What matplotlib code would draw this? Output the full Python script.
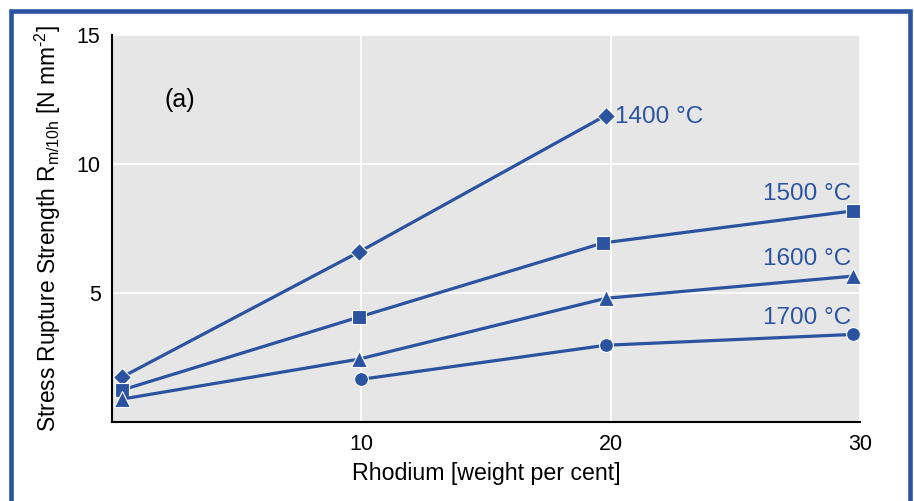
import matplotlib
matplotlib.use('Agg')
import matplotlib.pyplot as plt
from matplotlib.patches import Rectangle

plt.rcParams['font.family'] = ['Liberation Sans', 'DejaVu Sans']
plt.rcParams['mathtext.fontset'] = 'custom'
plt.rcParams['mathtext.rm'] = 'Liberation Sans'
plt.rcParams['mathtext.it'] = 'Liberation Sans'
plt.rcParams['mathtext.default'] = 'regular'

blue = '#2b53a0'

# data
x_1400 = [0.4, 9.9, 19.8]
y_1400 = [1.73, 6.58, 11.88]
x_1500 = [0.4, 9.9, 19.7, 29.7]
y_1500 = [1.23, 4.06, 6.94, 8.18]
x_1600 = [0.4, 9.9, 19.8, 29.7]
y_1600 = [0.88, 2.43, 4.79, 5.65]
x_1700 = [10.0, 19.8, 29.7]
y_1700 = [1.65, 2.97, 3.39]

series = [
    (x_1400, y_1400, 'D', 9, '1400 °C'),
    (x_1500, y_1500, 's', 9.5, '1500 °C'),
    (x_1600, y_1600, '^', 11, '1600 °C'),
    (x_1700, y_1700, 'o', 10, '1700 °C'),
]

xticks = [10, 20, 30]
yticks = [5, 10, 15]

fig = plt.figure(figsize=(9.14, 5.01), dpi=100)
ax = fig.add_axes([0.1222, 0.158, 0.8188, 0.772])
ax.set_facecolor('#e6e6e6')

for xs, ys, m, ms, lab in series:
    ax.plot(xs, ys, color=blue, lw=2.3, marker=m, ms=ms,
            mfc=blue, mec='white', mew=0.8, zorder=3, clip_on=False)
    if lab.startswith('1400'):
        ax.annotate(lab, (xs[-1], ys[-1]), xytext=(7, -1), textcoords='offset points',
                    ha='left', va='center', color=blue, fontsize=17.5)
    else:
        ax.annotate(lab, (xs[-1], ys[-1]), xytext=(-1, 12), textcoords='offset points',
                    ha='right', va='center', color=blue, fontsize=17.5)

ax.text(0.07, 0.832, '(a)', transform=ax.transAxes, fontsize=18, va='center')

ax.set_xlim(0, 30)
ax.set_ylim(0, 15)
ax.set_xticks(xticks)
ax.set_yticks(yticks)
ax.tick_params(length=0, labelsize=15.5)
ax.tick_params(axis='x', pad=9)
ax.tick_params(axis='y', pad=8)
ax.grid(True, color='white', lw=1.3)
ax.set_axisbelow(True)
for s in ['top', 'right']:
    ax.spines[s].set_visible(False)
for s in ['left', 'bottom']:
    ax.spines[s].set_linewidth(1.5)
    ax.spines[s].set_color('black')

ax.set_xlabel('Rhodium [weight per cent]', fontsize=16.7, labelpad=5)
ax.set_ylabel('Stress Rupture Strength R$_{m/10h}$ [N mm$^{\\text{-2}}$]',
              fontsize=16.4, labelpad=10)

# blue frame round the figure
fig.patches.append(Rectangle((10.5 / 914, -0.1), 899 / 914, 1.1 - 10.5 / 501,
                             transform=fig.transFigure, fill=False,
                             edgecolor=blue, lw=3.3, zorder=10))

fig.savefig('out.png', dpi=100)
